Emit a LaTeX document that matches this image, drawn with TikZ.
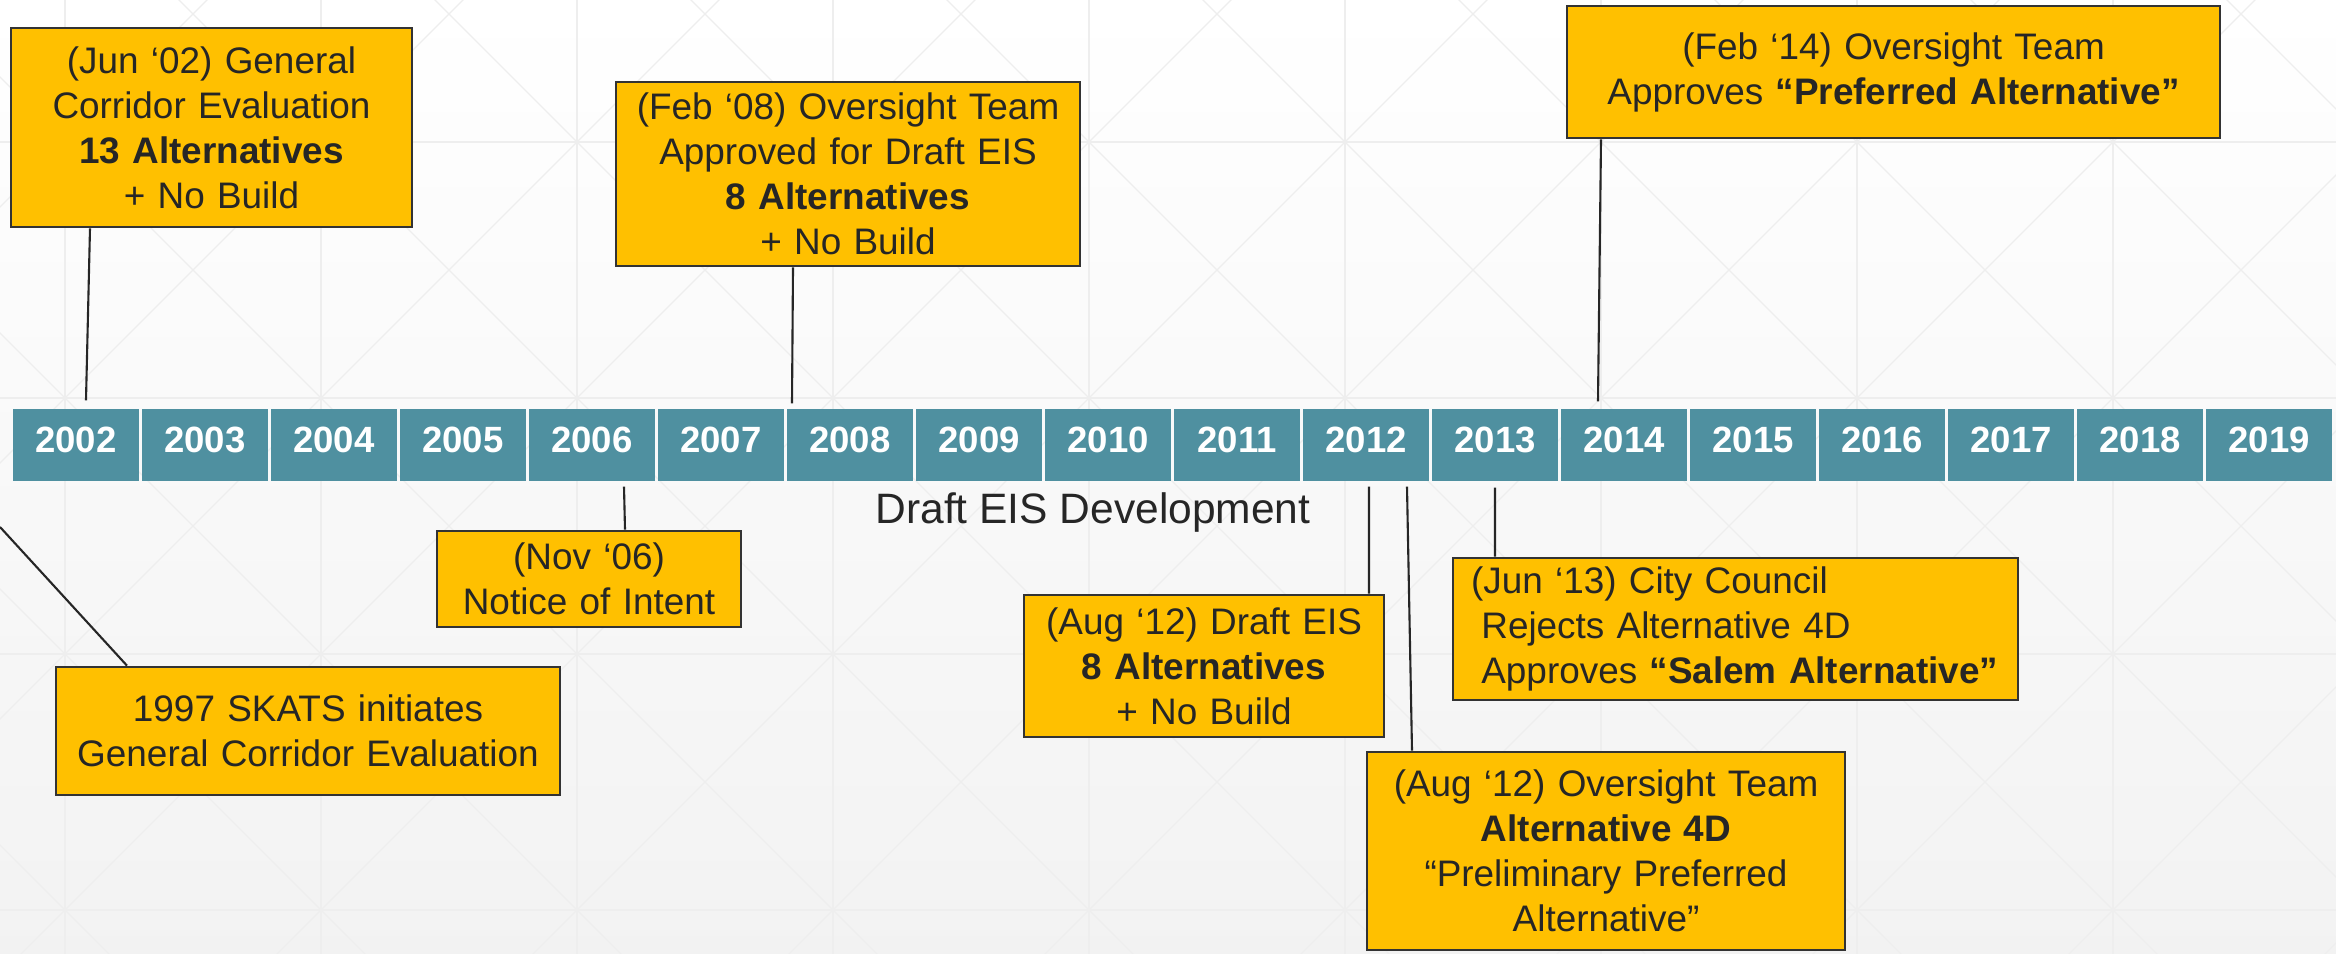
\documentclass[tikz,border=0pt]{standalone}
\usepackage{fontspec}
\setmainfont{Liberation Sans}
\definecolor{gold}{HTML}{FFC000}
\definecolor{barteal}{HTML}{4F90A0}
\definecolor{ink}{HTML}{262626}
\definecolor{boxedge}{HTML}{333333}
\definecolor{bggrid}{HTML}{EEEEEE}

\begin{document}
\begin{tikzpicture}[
    yearcell/.style={fill=barteal, text=white, minimum width=1.26cm, minimum height=0.72cm,
        inner sep=0pt, text height=0.26cm, text depth=0.1cm, font=\bfseries\fontsize{10.4}{12}\selectfont},
    event/.style={draw=boxedge, fill=gold, line width=0.75pt, text=ink, align=center,
        inner xsep=1mm, inner ysep=0pt, font=\fontsize{10.5}{12.8}\selectfont},
    tie/.style={draw=ink, line width=0.6pt}]
    \useasboundingbox (0,0) rectangle (23.36,9.54);
    \begin{scope}
        \clip (0,0) rectangle (23.36,9.54);
        \shade[top color=white, middle color=white, bottom color=black!5] (0,0) rectangle (23.36,9.54);
        \draw[step=2.56cm, bggrid, line width=0.35pt, shift={(0.65,0.44)}] (-2.56,-2.56) grid (23.04,10.24);
        \foreach \k in {-5,...,13}
            \draw[bggrid, line width=0.35pt] (0.21+2.56*\k-1,-1) -- ++(12,12)
                                              (1.09+2.56*\k+1,-1) -- ++(-12,12);
    \end{scope}

    \foreach \yr [count=\i from 0] in {2002,...,2019}
        \node[yearcell] (y\yr) at (0.76+1.29*\i,5.09) {\yr};

    \node[event, text width=3.81cm, minimum height=1.99cm] (jun02) at (2.115,8.265)
        {(Jun ‘02) General\\Corridor Evaluation\\\textbf{13 Alternatives}\\+ No Build};
    \node[event, text width=4.44cm, minimum height=1.84cm] (feb08) at (8.48,7.80)
        {(Feb ‘08) Oversight Team\\Approved for Draft EIS\\\textbf{8 Alternatives}\\+ No Build};
    \node[event, text width=6.33cm, minimum height=1.32cm] (feb14) at (18.935,8.82)
        {(Feb ‘14) Oversight Team\\Approves \textbf{“Preferred Alternative”}};
    \node[event, text width=2.84cm, minimum height=0.96cm] (nov06) at (5.89,3.75)
        {(Nov ‘06)\\Notice of Intent};
    \node[event, text width=4.84cm, minimum height=1.28cm] (skats) at (3.08,2.23)
        {1997 SKATS initiates\\General Corridor Evaluation};
    \node[event, text width=3.40cm, minimum height=1.42cm] (aug12eis) at (12.04,2.88)
        {(Aug ‘12) Draft EIS\\\textbf{8 Alternatives}\\+ No Build};
    \node[event, text width=4.58cm, minimum height=1.98cm] (aug12team) at (16.06,1.03)
        {(Aug ‘12) Oversight Team\\\textbf{Alternative 4D}\\“Preliminary Preferred\\Alternative”};
    \node[event, align=left, inner xsep=1.8mm, text width=5.29cm, minimum height=1.42cm] (jun13) at (17.355,3.25)
        {(Jun ‘13) City Council\\\hspace*{.28em}Rejects Alternative 4D\\\hspace*{.28em}Approves \mbox{\textbf{“Salem Alternative”}}};

    \node[text=ink, font=\fontsize{12.1}{14}\selectfont, anchor=base] (eisdev) at (10.93,4.30) {Draft EIS Development};

    \coordinate (edge1997) at (0,4.27);

    \draw[tie] ([xshift=-1.215cm]jun02.south) -- ([xshift=0.1cm,yshift=0.08cm]y2002.north);
    \draw[tie] ([xshift=-0.55cm]feb08.south) -- ([xshift=-0.58cm,yshift=0.05cm]y2008.north);
    \draw[tie] ([xshift=-2.925cm]feb14.south) -- ([xshift=-0.26cm,yshift=0.07cm]y2014.north);
    \draw[tie] ([xshift=0.32cm,yshift=-0.05cm]y2006.south) -- ([xshift=0.36cm]nov06.north);
    \draw[tie] (edge1997) -- ([xshift=-1.81cm]skats.north);
    \draw[tie] ([xshift=0.03cm,yshift=-0.05cm]y2012.south) -- ([xshift=1.65cm]aug12eis.north);
    \draw[tie] ([xshift=0.41cm,yshift=-0.05cm]y2012.south) -- ([xshift=-1.94cm]aug12team.north);
    \draw[tie] ([yshift=-0.06cm]y2013.south) -- ([xshift=-2.405cm]jun13.north);
\end{tikzpicture}
\end{document}
